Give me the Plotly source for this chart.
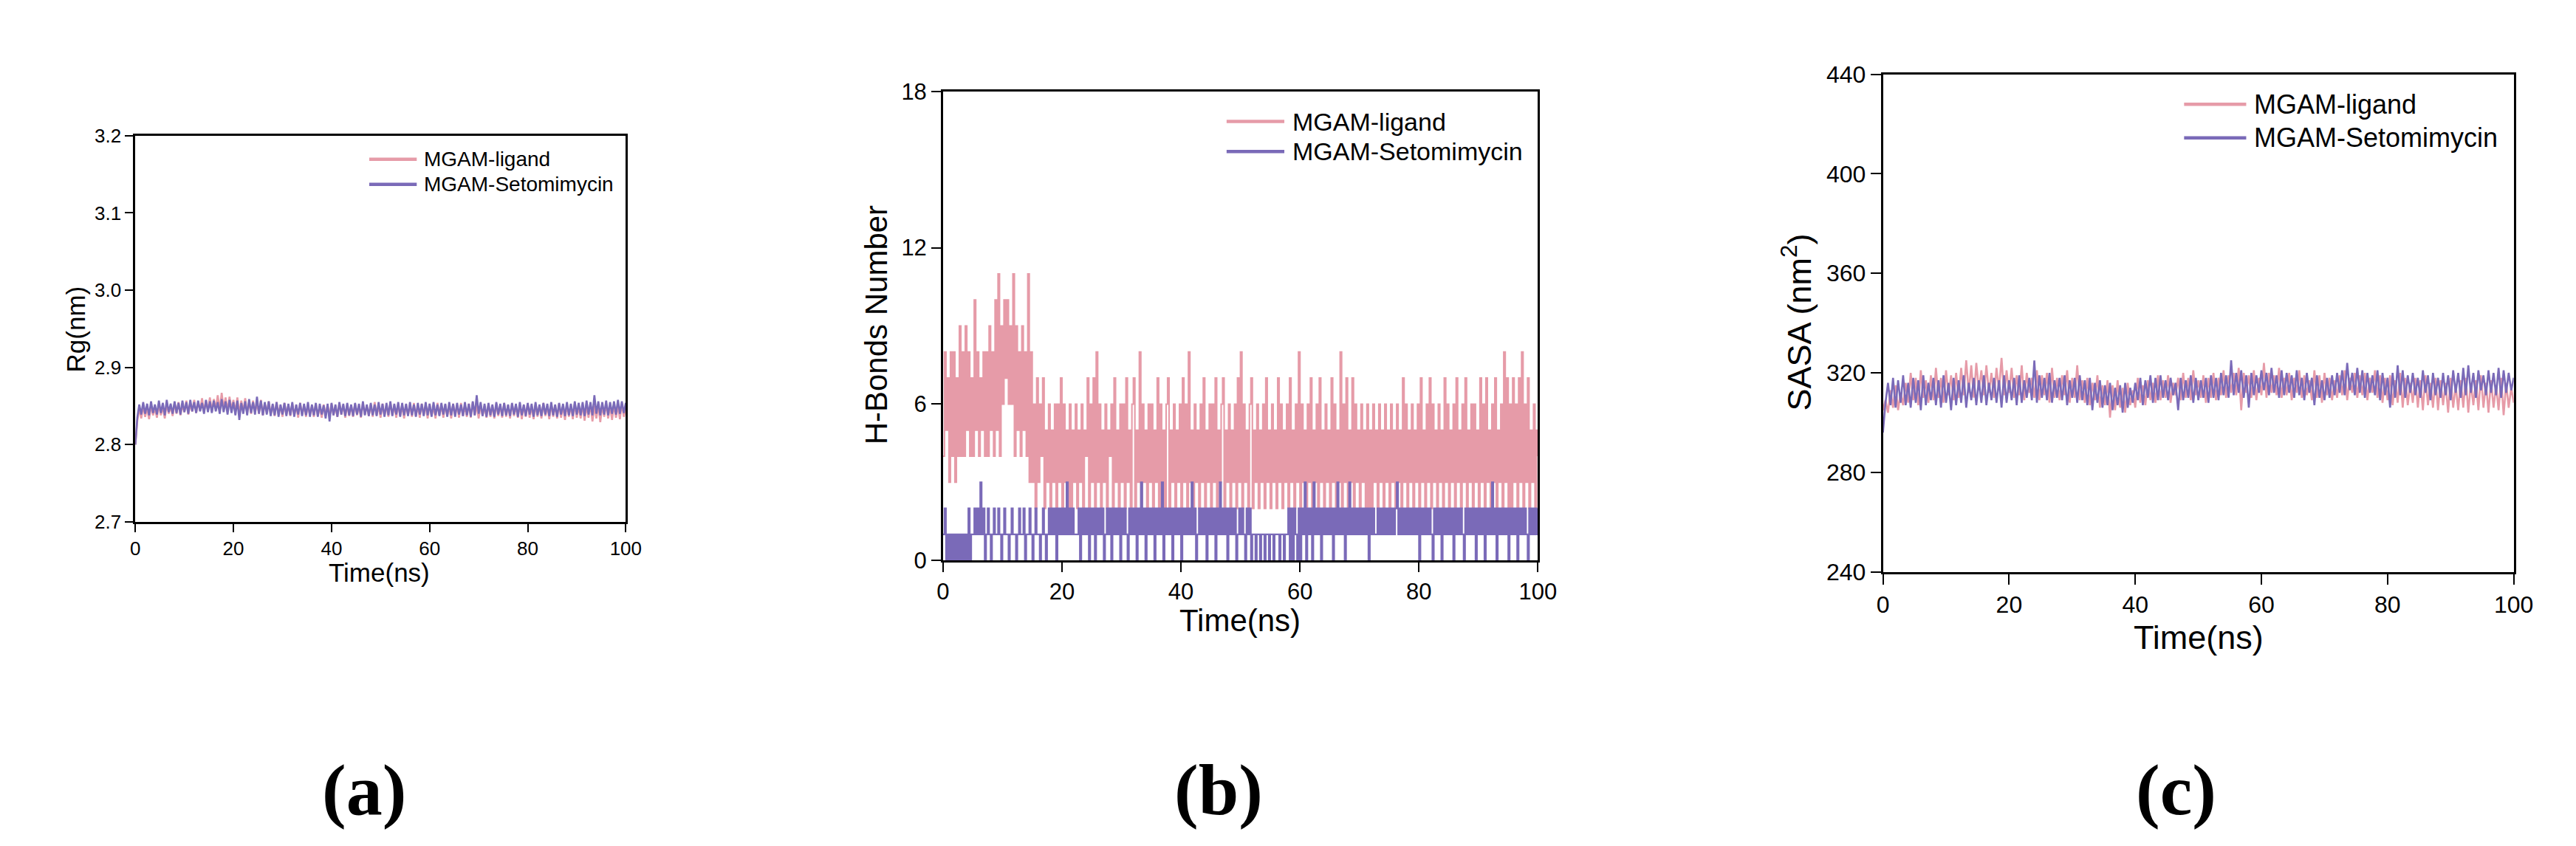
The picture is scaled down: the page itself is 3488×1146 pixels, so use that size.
import plotly.graph_objects as go

# ---------------- data ----------------
TIME_END_NS = 100
TICK_TIME = [0, 20, 40, 60, 80, 100]

# (a) Radius of gyration, nm, sampled every 0.4 ns
rg_ligand = [
    2.800, 2.831, 2.847, 2.834, 2.850, 2.836, 2.848, 2.833, 2.851, 2.838,
    2.847, 2.835, 2.852, 2.838, 2.849, 2.834, 2.853, 2.840, 2.850, 2.837,
    2.854, 2.840, 2.855, 2.838, 2.852, 2.842, 2.857, 2.839, 2.853, 2.843,
    2.858, 2.841, 2.855, 2.844, 2.860, 2.842, 2.857, 2.845, 2.861, 2.843,
    2.859, 2.846, 2.864, 2.844, 2.867, 2.847, 2.861, 2.843, 2.862, 2.845,
    2.858, 2.842, 2.861, 2.840, 2.857, 2.843, 2.860, 2.841, 2.855, 2.840,
    2.857, 2.842, 2.854, 2.840, 2.858, 2.838, 2.853, 2.841, 2.856, 2.839,
    2.852, 2.837, 2.855, 2.840, 2.851, 2.836, 2.854, 2.839, 2.850, 2.837,
    2.853, 2.838, 2.851, 2.835, 2.854, 2.839, 2.850, 2.836, 2.852, 2.838,
    2.850, 2.836, 2.853, 2.837, 2.849, 2.835, 2.852, 2.838, 2.851, 2.836,
    2.853, 2.838, 2.850, 2.836, 2.854, 2.839, 2.851, 2.835, 2.852, 2.837,
    2.850, 2.836, 2.853, 2.838, 2.851, 2.835, 2.854, 2.839, 2.850, 2.837,
    2.852, 2.836, 2.855, 2.838, 2.850, 2.835, 2.853, 2.837, 2.851, 2.836,
    2.854, 2.838, 2.851, 2.835, 2.853, 2.837, 2.850, 2.834, 2.852, 2.838,
    2.851, 2.836, 2.854, 2.837, 2.850, 2.835, 2.853, 2.838, 2.851, 2.834,
    2.853, 2.837, 2.850, 2.834, 2.854, 2.838, 2.851, 2.835, 2.852, 2.837,
    2.850, 2.834, 2.853, 2.838, 2.851, 2.835, 2.854, 2.837, 2.850, 2.836,
    2.853, 2.835, 2.855, 2.838, 2.851, 2.834, 2.852, 2.837, 2.850, 2.835,
    2.852, 2.836, 2.850, 2.834, 2.853, 2.837, 2.851, 2.835, 2.854, 2.836,
    2.851, 2.834, 2.853, 2.837, 2.850, 2.835, 2.852, 2.833, 2.851, 2.836,
    2.853, 2.835, 2.850, 2.833, 2.852, 2.836, 2.851, 2.834, 2.854, 2.837,
    2.850, 2.833, 2.852, 2.836, 2.851, 2.834, 2.853, 2.835, 2.850, 2.832,
    2.852, 2.836, 2.851, 2.833, 2.853, 2.835, 2.850, 2.834, 2.852, 2.831,
    2.851, 2.835, 2.853, 2.830, 2.850, 2.834, 2.852, 2.829, 2.851, 2.836,
    2.853, 2.834, 2.850, 2.832, 2.852, 2.835, 2.851, 2.833, 2.853, 2.836,
    2.849,
]
rg_setomimycin = [
    2.800, 2.835, 2.852, 2.839, 2.855, 2.840, 2.853, 2.838, 2.856, 2.841,
    2.852, 2.839, 2.857, 2.841, 2.854, 2.838, 2.858, 2.842, 2.853, 2.840,
    2.856, 2.841, 2.854, 2.839, 2.857, 2.842, 2.855, 2.840, 2.858, 2.843,
    2.855, 2.841, 2.857, 2.843, 2.854, 2.840, 2.858, 2.842, 2.856, 2.841,
    2.857, 2.843, 2.855, 2.840, 2.859, 2.842, 2.856, 2.839, 2.858, 2.841,
    2.855, 2.838, 2.857, 2.832, 2.854, 2.840, 2.856, 2.838, 2.859, 2.841,
    2.855, 2.839, 2.862, 2.840, 2.857, 2.838, 2.855, 2.839, 2.856, 2.837,
    2.853, 2.838, 2.855, 2.836, 2.852, 2.839, 2.854, 2.837, 2.853, 2.838,
    2.855, 2.836, 2.852, 2.839, 2.854, 2.837, 2.853, 2.838, 2.855, 2.836,
    2.852, 2.838, 2.854, 2.836, 2.853, 2.839, 2.851, 2.834, 2.853, 2.830,
    2.854, 2.838, 2.852, 2.836, 2.855, 2.839, 2.853, 2.837, 2.854, 2.838,
    2.852, 2.837, 2.854, 2.839, 2.853, 2.836, 2.856, 2.838, 2.852, 2.837,
    2.854, 2.838, 2.852, 2.837, 2.855, 2.839, 2.853, 2.836, 2.854, 2.838,
    2.856, 2.837, 2.853, 2.839, 2.855, 2.836, 2.854, 2.838, 2.853, 2.837,
    2.855, 2.838, 2.852, 2.836, 2.854, 2.839, 2.853, 2.837, 2.855, 2.838,
    2.853, 2.836, 2.855, 2.838, 2.852, 2.837, 2.854, 2.839, 2.853, 2.836,
    2.855, 2.838, 2.853, 2.836, 2.854, 2.839, 2.852, 2.837, 2.855, 2.838,
    2.853, 2.836, 2.856, 2.838, 2.864, 2.840, 2.855, 2.837, 2.853, 2.836,
    2.854, 2.838, 2.852, 2.836, 2.855, 2.839, 2.853, 2.837, 2.854, 2.838,
    2.852, 2.837, 2.854, 2.839, 2.853, 2.836, 2.855, 2.838, 2.852, 2.837,
    2.854, 2.839, 2.853, 2.836, 2.855, 2.838, 2.852, 2.837, 2.854, 2.839,
    2.853, 2.837, 2.855, 2.838, 2.852, 2.836, 2.854, 2.839, 2.853, 2.837,
    2.855, 2.838, 2.853, 2.837, 2.856, 2.839, 2.854, 2.838, 2.855, 2.837,
    2.857, 2.839, 2.855, 2.838, 2.864, 2.840, 2.856, 2.838, 2.855, 2.839,
    2.857, 2.838, 2.855, 2.840, 2.856, 2.839, 2.858, 2.840, 2.856, 2.841,
    2.854,
]

# (b) Number of hydrogen bonds, sampled every 0.25 ns
hb_ligand = [
    4, 8, 5, 7, 3, 8, 4, 8, 3, 7, 4, 9, 4, 8, 4, 9, 5, 8, 4, 7,
    4, 10, 5, 8, 4, 7, 5, 8, 4, 8, 4, 9, 5, 8, 4, 10, 5, 11, 4, 9,
    6, 10, 7, 10, 6, 9, 6, 11, 4, 9, 5, 8, 4, 9, 5, 8, 4, 11, 3, 8,
    3, 6, 2, 7, 3, 6, 4, 7, 2, 5, 3, 6, 2, 5, 3, 6, 2, 6, 3, 7,
    2, 6, 3, 5, 2, 6, 2, 5, 3, 6, 2, 5, 3, 6, 2, 5, 4, 7, 2, 6,
    3, 7, 2, 8, 3, 6, 2, 5, 3, 6, 2, 5, 4, 6, 2, 7, 3, 5, 2, 6,
    3, 6, 2, 7, 3, 5, 2, 6, 7, 2, 5, 3, 8, 2, 6, 3, 5, 2, 6, 3,
    6, 2, 5, 3, 7, 2, 6, 3, 5, 2, 6, 7, 2, 5, 3, 6, 2, 5, 3, 6,
    2, 7, 3, 6, 2, 8, 3, 5, 2, 6, 3, 5, 2, 6, 3, 7, 2, 5, 3, 6,
    2, 6, 3, 7, 2, 5, 3, 6, 7, 2, 5, 3, 6, 2, 5, 3, 6, 2, 7, 3,
    8, 2, 6, 3, 5, 2, 6, 7, 2, 5, 3, 6, 2, 5, 3, 6, 2, 7, 3, 5,
    2, 6, 3, 5, 2, 7, 3, 6, 2, 5, 3, 6, 2, 7, 3, 5, 2, 6, 3, 8,
    2, 6, 3, 5, 2, 6, 3, 7, 2, 5, 3, 6, 2, 7, 3, 5, 2, 6, 3, 5,
    2, 7, 3, 6, 2, 5, 3, 8, 2, 6, 3, 7, 2, 5, 3, 7, 2, 6, 3, 5,
    2, 6, 3, 5, 2, 6, 1, 5, 2, 6, 3, 5, 2, 6, 3, 5, 2, 6, 3, 5,
    2, 6, 3, 5, 2, 6, 3, 5, 2, 7, 3, 6, 2, 5, 3, 6, 2, 5, 3, 6,
    2, 7, 3, 5, 2, 6, 3, 7, 2, 6, 3, 5, 2, 6, 3, 5, 2, 7, 3, 6,
    2, 5, 3, 6, 2, 7, 3, 5, 2, 6, 3, 7, 2, 5, 3, 6, 2, 6, 3, 5,
    2, 7, 3, 6, 2, 7, 3, 5, 2, 6, 3, 7, 2, 5, 3, 6, 2, 8, 3, 7,
    2, 6, 1, 7, 3, 6, 2, 7, 3, 8, 2, 6, 3, 7, 2, 5, 3, 6, 2, 5,
    4,
]
hb_setomimycin = [
    1, 2, 0, 1, 0, 1, 0, 1, 0, 1, 0, 1, 0, 1, 0, 1, 0, 2, 0, 1,
    1, 2, 1, 2, 1, 3, 1, 2, 0, 1, 2, 1, 0, 1, 2, 1, 1, 2, 1, 0,
    1, 2, 1, 1, 0, 1, 2, 1, 1, 0, 1, 2, 1, 1, 2, 0, 1, 1, 2, 1,
    0, 1, 2, 1, 1, 0, 1, 2, 1, 0, 1, 2, 1, 2, 1, 2, 0, 2, 1, 2,
    1, 2, 1, 3, 1, 2, 1, 2, 1, 1, 1, 2, 0, 2, 1, 2, 1, 2, 0, 2,
    1, 2, 0, 2, 1, 2, 1, 2, 0, 1, 2, 1, 2, 0, 2, 1, 2, 1, 2, 0,
    2, 1, 2, 1, 0, 2, 1, 2, 1, 2, 0, 2, 1, 3, 1, 2, 0, 2, 1, 2,
    1, 2, 0, 2, 1, 2, 1, 3, 0, 2, 1, 2, 1, 2, 0, 2, 1, 2, 1, 2,
    0, 2, 1, 2, 1, 2, 1, 3, 1, 2, 0, 1, 2, 1, 2, 1, 2, 0, 2, 1,
    2, 1, 2, 0, 2, 1, 3, 1, 2, 1, 2, 0, 2, 1, 2, 1, 2, 0, 1, 2,
    1, 2, 1, 0, 2, 1, 2, 0, 1, 1, 0, 1, 1, 0, 1, 1, 0, 1, 1, 0,
    1, 1, 0, 1, 1, 1, 0, 1, 1, 0, 1, 1, 2, 0, 2, 0, 2, 1, 0, 2,
    0, 2, 1, 3, 0, 2, 1, 2, 0, 3, 1, 2, 1, 2, 0, 2, 1, 2, 1, 2,
    1, 2, 0, 2, 1, 3, 1, 2, 1, 2, 0, 2, 1, 3, 1, 2, 1, 2, 1, 2,
    1, 2, 1, 2, 1, 2, 0, 2, 1, 2, 1, 1, 2, 1, 2, 1, 2, 1, 2, 1,
    2, 1, 2, 1, 2, 3, 1, 2, 1, 2, 1, 2, 1, 2, 1, 2, 1, 2, 1, 2,
    0, 2, 1, 2, 1, 2, 1, 2, 1, 0, 2, 1, 2, 1, 2, 0, 2, 1, 2, 1,
    2, 1, 2, 0, 2, 1, 2, 1, 2, 1, 0, 2, 1, 2, 1, 2, 1, 2, 0, 2,
    1, 2, 1, 2, 0, 2, 1, 2, 1, 3, 1, 2, 0, 2, 1, 2, 1, 2, 1, 2,
    0, 2, 1, 2, 1, 2, 0, 2, 1, 2, 1, 2, 1, 0, 2, 1, 2, 1, 2, 1,
    2,
]

# (c) Solvent accessible surface area, nm^2, sampled every 0.4 ns
sasa_ligand = [
    305, 309, 304, 313, 306, 315, 305, 312, 307, 316,
    308, 320, 309, 318, 307, 321, 310, 317, 308, 319,
    309, 322, 310, 318, 308, 321, 311, 319, 309, 320,
    310, 322, 311, 325, 312, 323, 310, 324, 313, 321,
    311, 323, 312, 320, 310, 322, 313, 326, 311, 321,
    312, 322, 310, 319, 311, 323, 309, 320, 312, 318,
    310, 321, 309, 319, 311, 320, 308, 322, 310, 318,
    309, 319, 311, 321, 308, 318, 310, 323, 309, 317,
    308, 318, 307, 316, 309, 319, 306, 315, 307, 317,
    302, 315, 305, 317, 306, 314, 304, 316, 307, 313,
    306, 318, 308, 315, 307, 317, 309, 316, 308, 319,
    309, 317, 310, 319, 308, 316, 311, 318, 309, 320,
    310, 318, 309, 321, 311, 317, 310, 319, 308, 318,
    310, 320, 309, 318, 311, 321, 310, 319, 312, 320,
    311, 322, 305, 320, 312, 319, 310, 321, 309, 318,
    311, 324, 310, 320, 312, 319, 311, 322, 310, 318,
    311, 320, 309, 318, 312, 321, 310, 319, 311, 317,
    309, 321, 310, 319, 308, 320, 311, 318, 309, 317,
    310, 319, 311, 321, 309, 318, 312, 320, 310, 319,
    311, 320, 309, 318, 312, 321, 310, 319, 308, 318,
    309, 319, 307, 317, 308, 320, 306, 318, 307, 316,
    308, 318, 306, 317, 305, 319, 307, 316, 306, 318,
    305, 317, 307, 316, 304, 318, 306, 315, 305, 317,
    306, 318, 304, 316, 307, 317, 305, 319, 306, 316,
    304, 317, 306, 315, 305, 318, 303, 316, 306, 314,
    308,
]
sasa_setomimycin = [
    296, 308, 316, 307, 318, 306, 317, 308, 319, 307,
    316, 306, 318, 308, 317, 305, 319, 307, 316, 309,
    318, 307, 317, 306, 319, 308, 316, 305, 318, 307,
    317, 308, 319, 306, 316, 309, 318, 307, 317, 308,
    319, 307, 316, 309, 318, 308, 317, 306, 319, 308,
    317, 309, 318, 307, 319, 308, 317, 310, 318, 309,
    325, 308, 319, 310, 318, 309, 320, 308, 317, 310,
    318, 309, 319, 307, 317, 310, 318, 308, 319, 309,
    317, 307, 318, 305, 316, 308, 317, 306, 315, 307,
    316, 305, 314, 307, 315, 304, 316, 306, 314, 308,
    316, 309, 318, 307, 317, 310, 319, 308, 318, 309,
    319, 310, 317, 309, 318, 311, 316, 305, 318, 309,
    317, 310, 319, 308, 318, 309, 317, 310, 318, 308,
    319, 310, 318, 309, 320, 311, 319, 310, 325, 311,
    320, 312, 321, 310, 319, 306, 320, 311, 319, 312,
    321, 313, 320, 311, 322, 312, 319, 310, 321, 311,
    320, 312, 319, 310, 321, 311, 318, 309, 320, 312,
    318, 307, 319, 310, 317, 309, 318, 310, 319, 311,
    320, 312, 321, 311, 324, 313, 320, 311, 322, 312,
    321, 310, 320, 312, 319, 311, 321, 309, 320, 311,
    318, 306, 320, 310, 323, 311, 321, 310, 319, 312,
    320, 311, 318, 310, 321, 312, 319, 309, 320, 311,
    318, 310, 320, 311, 319, 309, 321, 312, 320, 310,
    322, 311, 323, 312, 320, 310, 321, 313, 319, 311,
    321, 312, 320, 311, 322, 310, 321, 312, 320, 313,
    318,
]

SERIES_NAMES = ["MGAM-ligand", "MGAM-Setomimycin"]
PANEL_LABELS = ["(a)", "(b)", "(c)"]

# ---------------- styling ----------------
W, H = 3488, 1146
PINK = "#E69BA8"
PURPLE = "#7A6AB8"
SANS = "Liberation Sans, Arial, sans-serif"
SERIF = "Liberation Serif, Times New Roman, serif"


def px(x):
    return x / W


def py(y):
    return 1 - y / H


def times(values):
    n = len(values)
    return [i * TIME_END_NS / (n - 1) for i in range(n)]


fig = go.Figure()

panels = [
    # axis suffix, series pair, line width, line shape
    ("", (rg_ligand, rg_setomimycin), 2.6, "linear"),
    ("2", (hb_ligand, hb_setomimycin), 2.1, "hv"),
    ("3", (sasa_ligand, sasa_setomimycin), 2.6, "linear"),
]
for suffix, (s1, s2), lw, shape in panels:
    for vals, col, name in ((s1, PINK, SERIES_NAMES[0]), (s2, PURPLE, SERIES_NAMES[1])):
        fig.add_trace(go.Scatter(
            x=times(vals), y=vals, mode="lines", name=name,
            line=dict(color=col, width=lw, shape=shape),
            xaxis="x" + suffix, yaxis="y" + suffix, showlegend=False,
            hoverinfo="skip",
        ))

# plot-area boxes (pixels): left, right, top, bottom
boxes = [(168, 839, 163, 703), (1273, 2087, 101, 757), (2559, 3422, 77, 773)]
tick_sizes = [26, 31, 32]
tick_lens = [11, 13, 14]
yranges = [[2.7, 3.2], [0, 18], [240, 440]]
ydticks = [0.1, 6, 40]
yformats = [".1f", "d", "d"]

layout = dict(
    width=W, height=H, autosize=False,
    margin=dict(l=0, r=0, t=0, b=0, pad=0),
    paper_bgcolor="white", plot_bgcolor="white",
    font=dict(family=SANS, color="black"),
)
for i, (l, r, t, b) in enumerate(boxes):
    sfx = "" if i == 0 else str(i + 1)
    common = dict(
        showline=True, linecolor="black", linewidth=2.6, mirror=True,
        ticks="outside", ticklen=tick_lens[i], tickwidth=2.2, tickcolor="black",
        showgrid=False, zeroline=False,
        tickfont=dict(family=SANS, size=tick_sizes[i], color="black"),
    )
    layout["xaxis" + sfx] = dict(
        domain=[px(l), px(r)], anchor="y" + sfx, range=[0, TIME_END_NS],
        tickmode="array", tickvals=TICK_TIME, ticktext=[str(v) for v in TICK_TIME],
        **common,
    )
    layout["yaxis" + sfx] = dict(
        domain=[py(b), py(t)], anchor="x" + sfx, range=yranges[i],
        dtick=ydticks[i], tick0=yranges[i][0], tickformat=yformats[i],
        **common,
    )

fig.update_layout(**layout)

annotations = []
shapes = []

# axis titles: (text, x, y, size, angle)
titles = [
    ("Time(ns)", 502, 774, 35, 0),
    ("Rg(nm)", 86, 434, 35, -90),
    ("Time(ns)", 1679, 841, 42, 0),
    ("H-Bonds Number", 1182, 428, 42, -90),
    ("Time(ns)", 2991, 865, 45, 0),
    ("SASA (nm<sup>2</sup>)", 2441, 424, 45, -90),
]
for text, x, y, size, ang in titles:
    annotations.append(dict(
        text=text, x=px(x), y=py(y), xref="paper", yref="paper",
        xanchor="center", yanchor="middle", showarrow=False, textangle=ang,
        font=dict(family=SANS, size=size, color="black"),
    ))

# panel labels
for text, x in zip(PANEL_LABELS, [481, 1650, 2960]):
    annotations.append(dict(
        text="<b>" + text + "</b>", x=px(x), y=py(1078), xref="paper", yref="paper",
        xanchor="center", yanchor="middle", showarrow=False,
        font=dict(family=SERIF, size=98, color="black"),
    ))

# legends: line x0, x1, text x, row y's, font size
legends = [
    (488, 553, 561, (196, 231), 28),
    (1661, 1740, 1749, (143, 185), 34),
    (2971, 3056, 3065, (119, 166), 36),
]
for x0, x1, xt, ys, size in legends:
    for yy, col, name in zip(ys, (PINK, PURPLE), SERIES_NAMES):
        shapes.append(dict(
            type="line", xref="paper", yref="paper",
            x0=px(x0), x1=px(x1), y0=py(yy), y1=py(yy),
            line=dict(color=col, width=4.5),
        ))
        annotations.append(dict(
            text=name, x=px(xt), y=py(yy), xref="paper", yref="paper",
            xanchor="left", yanchor="middle", showarrow=False,
            font=dict(family=SANS, size=size, color="black"),
        ))

fig.update_layout(annotations=annotations, shapes=shapes)
fig.write_html("out.html")
